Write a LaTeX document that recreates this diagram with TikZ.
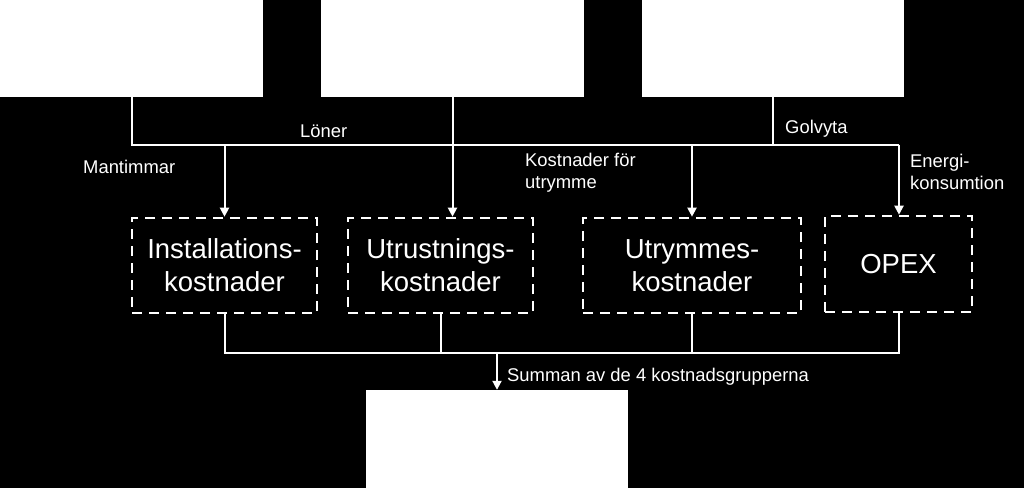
\documentclass[tikz,border=0pt]{standalone}
\usepackage{fontspec}
\setmainfont{Liberation Sans}
\usetikzlibrary{arrows.meta}
\begin{document}
\begin{tikzpicture}[x=1pt,y=-1pt,
  solidbox/.style={draw=none, fill=white, rectangle, inner sep=0pt},
  dashbox/.style={draw=white, line width=2.6pt, dash pattern=on 10pt off 7pt, rectangle, inner sep=0pt, align=center, text=white, font=\fontsize{27.5}{33}\selectfont},
  wire/.style={draw=white, line width=2pt},
  arr/.style={wire, -{Triangle[width=9pt,length=9pt]}},
  lbl/.style={text=white, font=\fontsize{18.4}{21.5}\selectfont, inner sep=0pt, anchor=base west, align=left}]
\fill[black] (0,0) rectangle (1024,488);
\useasboundingbox (0,0) rectangle (1024,488);
% top boxes
\node[solidbox, minimum width=263pt, minimum height=97pt] (t1) at (131.5,48.5) {};
\node[solidbox, minimum width=263pt, minimum height=97pt] (t2) at (452.5,48.5) {};
\node[solidbox, minimum width=262pt, minimum height=97pt] (t3) at (773,48.5) {};
% middle boxes
\node[dashbox, minimum width=185pt, minimum height=95pt] (m1) at (224.5,265.5) {Installations-\\kostnader};
\node[dashbox, minimum width=185pt, minimum height=95pt] (m2) at (440.5,265.5) {Utrustnings-\\kostnader};
\node[dashbox, minimum width=218pt, minimum height=95pt] (m3) at (692,265.5) {Utrymmes-\\kostnader};
\node[dashbox, minimum width=147pt, minimum height=96pt] (m4) at (898.5,264) {OPEX};
% bottom box
\node[solidbox, minimum width=262pt, minimum height=98pt] (b) at (497,439) {};
% bus coordinates
\coordinate (busT) at (899,144.5);
\coordinate (busB) at (899,352.5);
% top wiring
\draw[wire] (t1.south) |- (busT);
\draw[wire] (t3.south) -- (t3.south |- busT);
\draw[arr] (t2.south) -- (t2.south |- m2.north);
\draw[arr] (m1.north |- busT) -- (m1.north);
\draw[arr] (m3.north |- busT) -- (m3.north);
\draw[arr] (busT) -- (busT |- m4.north);
% bottom wiring
\draw[wire] (m1.south) |- (busB) -- (busB |- m4.south);
\draw[wire] (m2.south) -- (m2.south |- busB);
\draw[wire] (m3.south) -- (m3.south |- busB);
\draw[arr] (b.north |- busB) -- (b.north);
% labels
\node[lbl] (l1) at (300,137) {Löner};
\node[lbl] (l2) at (83,173) {Mantimmar};
\node[lbl] (l3) at (785,133) {Golvyta};
\node[lbl] (l4) at (525,188) {Kostnader för\\utrymme};
\node[lbl] (l5) at (910,189) {Energi-\\konsumtion};
\node[lbl] (l6) at (507,381) {Summan av de 4 kostnadsgrupperna};
\end{tikzpicture}
\end{document}
